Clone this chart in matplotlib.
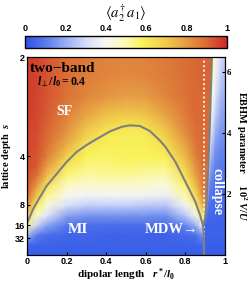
import numpy as np
import matplotlib
matplotlib.use("Agg")
import matplotlib.pyplot as plt
from matplotlib.colors import LinearSegmentedColormap

plt.rcParams['mathtext.fontset'] = 'custom'
plt.rcParams['mathtext.rm'] = 'Liberation Serif:bold'
plt.rcParams['mathtext.it'] = 'Liberation Serif:italic:bold'
plt.rcParams['mathtext.bf'] = 'Liberation Serif:bold'

SERIF = ['Liberation Serif', 'DejaVu Serif']
SANS = ['Liberation Sans', 'DejaVu Sans']

# grid of the map: x = r*/l0, y = position on the lattice-depth axis (0 bottom, 1 top)
grid_y = [0, 0.05, 0.1, 0.15, 0.2, 0.25, 0.3, 0.35, 0.4, 0.45, 0.5, 0.55, 0.6, 0.65, 0.7, 0.8, 0.9, 1.0]
grid_x = [0, 0.05, 0.1, 0.2, 0.3, 0.4, 0.5, 0.6, 0.7, 0.8, 0.85, 0.89]

# <a2+ a1>, one row per grid_y, columns grid_x + edge column
field = [
    [.03, .03, .03, .03, .03, .03, .03, .03, .03, .03, .03, .03, .03],
    [.05, .04, .04, .04, .04, .04, .04, .04, .04, .04, .04, .05, .04],
    [.22, .10, .07, .05, .05, .04, .04, .04, .04, .06, .07, .15, .06],
    [.52, .28, .18, .09, .07, .07, .07, .07, .07, .12, .20, .40, .15],
    [.68, .45, .33, .18, .15, .15, .15, .15, .14, .26, .38, .60, .50],
    [.82, .58, .44, .31, .27, .27, .27, .26, .25, .38, .53, .75, .80],
    [.90, .70, .53, .41, .38, .39, .39, .38, .36, .50, .63, .85, .87],
    [.93, .80, .62, .48, .45, .46, .46, .45, .43, .56, .72, .87, .88],
    [.94, .88, .72, .55, .51, .52, .52, .51, .50, .63, .78, .88, .89],
    [.95, .92, .80, .61, .55, .55, .56, .55, .55, .69, .82, .89, .89],
    [.95, .93, .86, .68, .58, .57, .58, .58, .59, .74, .85, .90, .90],
    [.96, .94, .88, .75, .61, .59, .59, .59, .63, .78, .87, .90, .90],
    [.96, .94, .90, .80, .67, .60, .59, .60, .68, .82, .88, .90, .90],
    [.96, .95, .91, .83, .72, .65, .62, .64, .73, .85, .89, .90, .90],
    [.97, .95, .92, .85, .77, .71, .68, .70, .78, .86, .90, .90, .90],
    [.97, .96, .93, .88, .84, .81, .79, .80, .84, .88, .90, .90, .90],
    [.97, .96, .93, .89, .86, .84, .83, .84, .86, .89, .90, .91, .91],
    [.97, .96, .93, .89, .87, .85, .85, .85, .87, .89, .90, .91, .91],
]

# collapse region, from the collapse line to x = 1
collapse_t = [0, 0.15, 0.4, 0.7, 1.0]
collapse_field = [
    [.03, .03, .03, .03, .03],
    [.03, .03, .03, .03, .03],
    [.04, .04, .04, .04, .04],
    [.05, .04, .04, .04, .04],
    [.10, .06, .05, .05, .05],
    [.15, .08, .06, .06, .06],
    [.20, .10, .07, .07, .07],
    [.25, .12, .08, .08, .08],
    [.30, .15, .10, .09, .09],
    [.34, .18, .12, .10, .10],
    [.38, .22, .14, .11, .11],
    [.42, .26, .16, .13, .12],
    [.46, .30, .19, .15, .14],
    [.50, .33, .22, .17, .16],
    [.53, .36, .25, .19, .17],
    [.57, .40, .30, .23, .20],
    [.60, .43, .34, .27, .23],
    [.62, .45, .37, .30, .26],
]

# phase boundaries (gray lines)
sf_mi_x = [0, 0.03, 0.058, 0.1, 0.15, 0.2, 0.25, 0.3, 0.35, 0.42, 0.48, 0.52, 0.57, 0.62, 0.67, 0.7, 0.75, 0.8, 0.85, 0.875, 0.889, 0.893, 0.894]
sf_mi_y = [0.16, 0.23, 0.28, 0.35, 0.41, 0.47, 0.52, 0.555, 0.585, 0.625, 0.648, 0.655, 0.652, 0.627, 0.58, 0.545, 0.47, 0.37, 0.27, 0.2, 0.15, 0.1, 0.0]
collapse_x = [0.894, 0.9, 0.906, 0.914, 0.922, 0.928, 0.934]
collapse_y = [0.16, 0.19, 0.25, 0.4, 0.6, 0.8, 1.0]
mdw_x = 0.894

s_ticks = [1.0, 0.5, 0.255, 0.15, 0.085]
s_labels = ['2', '4', '8', '16', '32']
v_ticks = [2, 4, 6]
v_max = 6.5

cmap = LinearSegmentedColormap.from_list('sfmi', [
    (0.0, '#2b52e6'), (0.1, '#5a7cec'), (0.2, '#98acf2'), (0.3, '#d4dcf8'),
    (0.4, '#f8f8f4'), (0.5, '#fbf9b4'), (0.58, '#f9f35a'), (0.7, '#f0c94a'),
    (0.8, '#e59c44'), (0.9, '#da6a34'), (1.0, '#cd2b2b')])

fig = plt.figure(figsize=(2.49, 2.82), dpi=100)
ax = fig.add_axes([0.1084, 0.0957, 0.795, 0.702])

gy = np.array(grid_y)
edge = np.interp(gy, collapse_y, collapse_x)
X = np.column_stack([np.tile(grid_x, (len(gy), 1)), edge])
Y = np.tile(gy[:, None], (1, X.shape[1]))
ax.pcolormesh(X, Y, np.array(field), shading='gouraud', cmap=cmap, vmin=0, vmax=1)

t = np.array(collapse_t)
Xc = edge[:, None] + t[None, :] * (1.0 - edge[:, None])
Yc = np.tile(gy[:, None], (1, len(t)))
ax.pcolormesh(Xc, Yc, np.array(collapse_field), shading='gouraud', cmap=cmap, vmin=0, vmax=1)

ax.axvline(mdw_x, color='#f4ecec', ls=(0, (1, 1.3)), lw=1.4)
ax.plot(sf_mi_x, sf_mi_y, color='#7f7f7f', lw=1.5)
ax.plot(collapse_x, collapse_y, color='#7f7f7f', lw=1.5)

ax.set_xlim(0, 1)
ax.set_ylim(0, 1)
ax.set_xticks([0, 0.2, 0.4, 0.6, 0.8, 1])
ax.set_xticklabels(['0', '0.2', '0.4', '0.6', '0.8', '1'])
ax.set_yticks(s_ticks)
ax.set_yticklabels(s_labels)
ax.tick_params(direction='in', length=2.5, width=0.8, pad=1.5, labelsize=6.5)
for lab in ax.get_xticklabels() + ax.get_yticklabels():
    lab.set_family(SANS)
    lab.set_fontweight('bold')
ax.set_xlabel(r'dipolar length   $r^*/l_0$', family=SERIF, fontweight='bold', fontsize=8, labelpad=0.5)
ax.set_ylabel(r'lattice depth  $s$', family=SERIF, fontweight='bold', fontsize=7.5, labelpad=1)

ax2 = ax.twinx()
ax2.set_ylim(0, v_max)
ax2.set_yticks(v_ticks)
ax2.tick_params(direction='in', length=2.5, width=0.8, pad=1.5, labelsize=6.5)
for lab in ax2.get_yticklabels():
    lab.set_family(SERIF)
    lab.set_fontweight('bold')
ax2.set_ylabel(r'EBHM parameter     $\mathrm{10}^2\ V/U$', family=SERIF, fontweight='bold',
               fontsize=7.5, rotation=270, labelpad=12)

ax.text(0.015, 0.924, 'two−band', family=SERIF, fontweight='bold', fontsize=11, ha='left', va='baseline')
ax.text(0.05, 0.86, r'$l_\perp/l_0 = 0.4$', fontsize=8.5, ha='left', va='baseline')
ax.text(0.187, 0.727, 'SF', family=SERIF, fontweight='bold', fontsize=10, color='white', ha='center', va='center')
ax.text(0.258, 0.131, 'MI', family=SERIF, fontweight='bold', fontsize=11, color='white', ha='center', va='center')
ax.text(0.732, 0.131, 'MDW→', family=SERIF, fontweight='bold', fontsize=10.5, color='white', ha='center', va='center')
ax.text(0.958, 0.323, 'collapse', family=SERIF, fontweight='bold', fontsize=10, color='white',
        rotation=-90, ha='center', va='center')

cax = fig.add_axes([0.1004, 0.8298, 0.811, 0.0426])
sm = plt.cm.ScalarMappable(cmap=cmap, norm=plt.Normalize(0, 1))
cb = fig.colorbar(sm, cax=cax, orientation='horizontal')
cb.set_ticks([0, 0.2, 0.4, 0.6, 0.8, 1])
cb.set_ticklabels(['0', '0.2', '0.4', '0.6', '0.8', '1'])
cax.xaxis.set_ticks_position('top')
cax.tick_params(length=0, pad=2, labelsize=6.5)
for lab in cax.get_xticklabels():
    lab.set_family(SANS)
    lab.set_fontweight('bold')
cb.outline.set_linewidth(1.0)
fig.text(0.506, 0.953, r'$\langle a_2^{\dagger}\, a_1\rangle$', fontsize=10.5, ha='center', va='center',
         math_fontfamily='stix')

fig.savefig('out.png', dpi=100)
